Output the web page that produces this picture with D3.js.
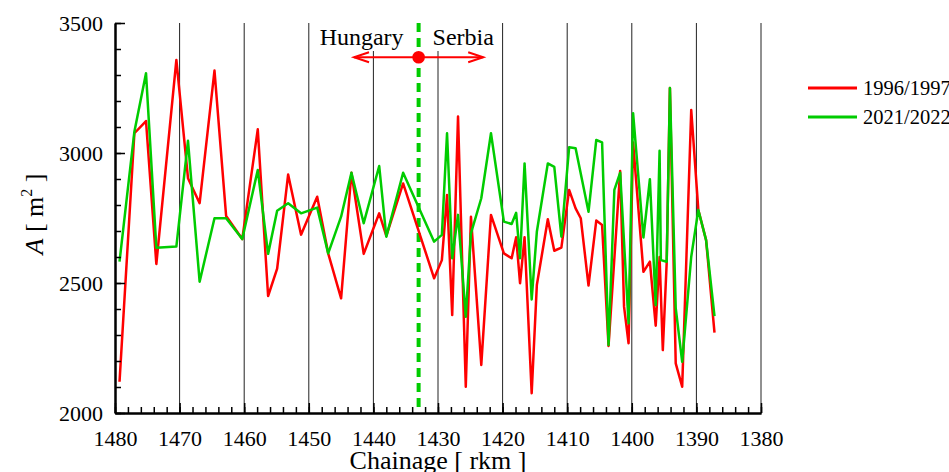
<!DOCTYPE html>
<html><head><meta charset="utf-8">
<script src="https://cdn.jsdelivr.net/npm/d3@7"></script>
<style>body{margin:0;background:#fff}svg{display:block}svg text{font-family:"Liberation Serif",Tinos,"Times New Roman",Times,"DejaVu Serif",serif !important;fill:#000}</style>
</head><body>
<svg id="c" width="949" height="472"></svg>
<script>
const chainage9697 = [1479.3,1477.0,1475.2,1473.6,1470.5,1468.7,1466.9,1464.6,1462.8,1460.3,1457.9,1456.3,1454.9,1453.2,1451.2,1448.7,1447.0,1445.0,1443.4,1441.5,1439.1,1438.0,1435.4,1430.6,1429.4,1428.6,1427.8,1426.9,1425.7,1424.9,1423.3,1421.8,1419.8,1418.6,1417.9,1417.3,1416.6,1415.5,1414.7,1413.0,1412.0,1410.9,1409.7,1408.7,1407.9,1406.7,1405.5,1404.6,1403.6,1401.8,1401.2,1400.5,1399.8,1398.2,1397.2,1396.3,1395.7,1395.2,1394.6,1394.1,1393.2,1392.2,1390.8,1389.7,1388.5,1387.2];
const area9697 = [2120,3076,3123,2573,3358,2903,2807,3317,2758,2669,3091,2450,2555,2917,2686,2832,2614,2441,2924,2612,2768,2681,2883,2518,2588,2838,2377,3140,2101,2755,2185,2762,2614,2595,2676,2499,2676,2076,2492,2745,2624,2636,2858,2787,2749,2490,2740,2723,2258,2931,2409,2268,3040,2543,2582,2336,2600,2242,2578,3250,2191,2101,3165,2781,2665,2309];
const chainage2122 = [1479.3,1477.0,1475.2,1473.6,1470.5,1468.7,1466.9,1464.6,1462.8,1460.3,1457.9,1456.3,1454.9,1453.2,1451.2,1448.7,1447.0,1445.0,1443.4,1441.5,1439.1,1438.0,1435.4,1430.6,1429.4,1428.6,1427.8,1426.9,1425.7,1424.9,1423.3,1421.8,1419.8,1418.6,1417.9,1417.3,1416.6,1415.5,1414.7,1413.0,1412.0,1410.9,1409.7,1408.7,1406.7,1405.5,1404.6,1403.6,1402.7,1401.8,1400.5,1399.8,1398.2,1397.2,1396.3,1395.7,1395.5,1394.6,1394.1,1393.2,1392.2,1390.8,1389.7,1388.5,1387.2];
const area2122 = [2582,3082,3307,2636,2640,3047,2505,2749,2749,2669,2935,2612,2778,2807,2768,2790,2614,2755,2924,2730,2950,2678,2924,2659,2685,3076,2595,2762,2370,2691,2826,3076,2736,2727,2770,2595,2960,2437,2697,2960,2947,2678,3022,3018,2774,3050,3041,2262,2858,2924,2345,3153,2675,2899,2415,3009,2588,2582,3250,2403,2197,2601,2781,2665,2373];
const seriesNames = ["1996/1997","2021/2022"];
const seriesColors = ["#ff0000","#00cc00"];
const xTicks = [1480,1470,1460,1450,1440,1430,1420,1410,1400,1390,1380];
const yTicks = [2000,2500,3000,3500];
const borderRkm = 1433;
const borderArea = 3368;
const arrowHalf = 10;
const countries = ["Hungary","Serbia"];

const FONT = "'Liberation Serif', Tinos, 'Times New Roman', Times, 'DejaVu Serif', serif";
const svg = d3.select("#c");
const x = d3.scaleLinear().domain([1480,1380]).range([115,761]);
const y = d3.scaleLinear().domain([2000,3500]).range([413,23]);

// gridlines
svg.append("g").selectAll("line").data(xTicks.slice(1)).join("line")
  .attr("x1",d=>x(d)).attr("x2",d=>x(d)).attr("y1",y(3500)).attr("y2",y(2000))
  .attr("stroke","#222").attr("stroke-width",1);

// country labels with white background
const lab = svg.append("g");
lab.append("rect").attr("x",312).attr("y",22).attr("width",94).attr("height",29).attr("fill","#fff");
lab.append("rect").attr("x",428).attr("y",22).attr("width",72).attr("height",29).attr("fill","#fff");
lab.append("text").attr("x",x(borderRkm)-15).attr("y",45).attr("text-anchor","end").attr("font-size",24).text(countries[0]);
lab.append("text").attr("x",x(borderRkm)+14).attr("y",45).attr("text-anchor","start").attr("font-size",24).text(countries[1]);

// border dashed line
svg.append("line").attr("x1",x(borderRkm)).attr("x2",x(borderRkm)).attr("y1",y(3500)).attr("y2",y(2000))
  .attr("stroke","#00cc00").attr("stroke-width",4).attr("stroke-dasharray","9,6");

// lines
const line = d3.line().x(d=>x(d[0])).y(d=>y(d[1]));
const s1 = chainage9697.map((c,i)=>[c,area9697[i]]);
const s2 = chainage2122.map((c,i)=>[c,area2122[i]]);
svg.append("path").datum(s1).attr("d",line).attr("fill","none").attr("stroke",seriesColors[0]).attr("stroke-width",2.5).attr("stroke-linejoin","round");
svg.append("path").datum(s2).attr("d",line).attr("fill","none").attr("stroke",seriesColors[1]).attr("stroke-width",2.5).attr("stroke-linejoin","round");

// arrows
const ay = y(borderArea);
const xl = x(borderRkm+arrowHalf), xr = x(borderRkm-arrowHalf);
const ag = svg.append("g").attr("stroke","#ff0000").attr("stroke-width",2).attr("fill","none");
ag.append("line").attr("x1",xl).attr("x2",xr).attr("y1",ay).attr("y2",ay);
ag.append("path").attr("d",`M${xl+15},${ay-5}L${xl},${ay}L${xl+15},${ay+5}`);
ag.append("path").attr("d",`M${xr-15},${ay-5}L${xr},${ay}L${xr-15},${ay+5}`);
svg.append("circle").attr("cx",x(borderRkm)).attr("cy",ay).attr("r",6.3).attr("fill","#ff0000");

// axes
const yAxis = d3.axisLeft(y).tickValues(yTicks).tickSize(-10).tickSizeOuter(0).tickPadding(12).tickFormat(d3.format("d"));
const yMinor = d3.axisLeft(y).tickValues(d3.range(2000,3501,100)).tickSize(-6).tickSizeOuter(0).tickFormat("");
const xAxis = d3.axisBottom(x).tickValues(xTicks).tickSize(-10).tickSizeOuter(0).tickPadding(17).tickFormat(d3.format("d"));
const xMinor = d3.axisBottom(x).tickValues(d3.range(1480,1379,-2)).tickSize(-6).tickSizeOuter(0).tickFormat("");
function style(g){g.attr("font-family",FONT);
  g.selectAll("path.domain").attr("stroke","#000").attr("stroke-width",2);
  g.selectAll(".tick line").attr("stroke","#000").attr("stroke-width",1.5);
  g.selectAll("text").attr("font-size",22).attr("fill","#000");}
svg.append("g").attr("transform","translate(115,0)").call(yMinor).call(style);
svg.append("g").attr("transform","translate(115,0)").call(yAxis).call(style);
svg.append("g").attr("transform","translate(0,413)").call(xMinor).call(style);
svg.append("g").attr("transform","translate(0,413)").call(xAxis).call(style);

// axis titles
svg.append("text").attr("x",438).attr("y",469).attr("text-anchor","middle").attr("font-size",26).text("Chainage [ rkm ]");
const yt = svg.append("text").attr("transform","translate(43,214) rotate(-90)").attr("text-anchor","middle").attr("font-size",26);
yt.append("tspan").attr("font-style","italic").text("A");
yt.append("tspan").text(" [  m");
yt.append("tspan").attr("font-size",16).attr("dy",-11).text("2");
yt.append("tspan").attr("dy",11).text(" ]");

// legend
const lg = svg.append("g");
seriesNames.forEach((n,i)=>{
  const ly = 88 + i*29;
  lg.append("line").attr("x1",808).attr("x2",857).attr("y1",ly).attr("y2",ly).attr("stroke",seriesColors[i]).attr("stroke-width",3);
  lg.append("text").attr("x",863).attr("y",ly+7).attr("font-size",20.5).text(n);
});
</script>
</body></html>
